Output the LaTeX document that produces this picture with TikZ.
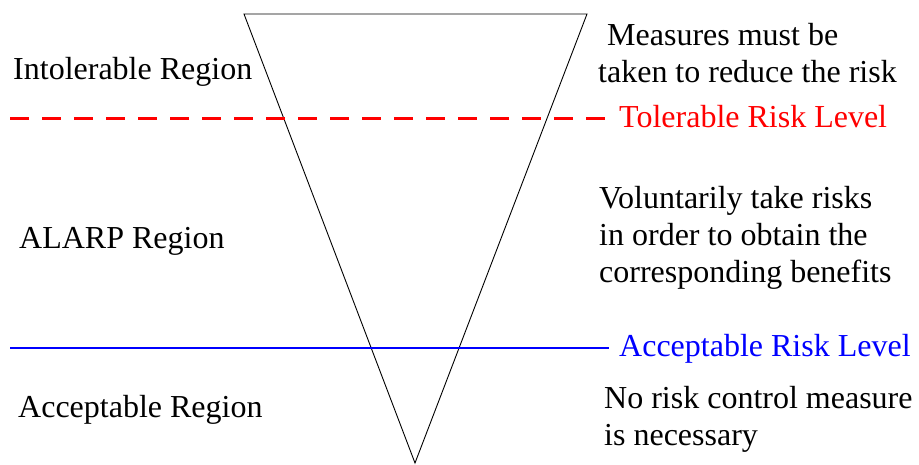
\documentclass[tikz,border=0pt]{standalone}
\usepackage{fontspec}
\setmainfont{Liberation Serif}
\usepackage{xcolor}
\usetikzlibrary{positioning}

\begin{document}
\begin{tikzpicture}[x=1pt, y=-1pt,
  txt/.style={inner sep=0pt, anchor=base west, align=left, font=\fontsize{32}{37}\selectfont},
  tolline/.style={red, line width=3pt, dash pattern=on 19pt off 13pt},
  accline/.style={blue, line width=2.7pt}]
  \useasboundingbox (0,0) rectangle (919,464);
  % risk triangle
  \coordinate (tl) at (244,14);
  \coordinate (tr) at (587,14);
  \coordinate (apex) at (415,463);
  \draw[line width=0.9pt] (tl) -- (tr) -- (apex) -- cycle;
  % risk levels
  \coordinate (tolL) at (10,118);
  \coordinate (tolR) at (613,118);
  \coordinate (accL) at (10,348);
  \coordinate (accR) at (609,348);
  \draw[tolline] (tolL) -- (tolR);
  \draw[accline] (accL) -- (accR);
  \node[txt, red]  (tol) at (619,127) {Tolerable Risk Level};
  \node[txt, blue] (acc) at (619,356) {Acceptable Risk Level};
  % regions
  \node[txt] (intol) at (13,79)  {Intolerable Region};
  \node[txt] (alarp) at (19,248) {ALARP Region};
  \node[txt] (accr)  at (18,417) {Acceptable Region};
  % measures (base = last line)
  \node[txt] (m1) at (598,82)  {\hspace*{9pt}Measures must be\\taken to reduce the risk};
  \node[txt] (m2) at (599,282) {Voluntarily take risks\\in order to obtain the\\corresponding benefits};
  \node[txt] (m3) at (604,445) {No risk control measure\\is necessary};
\end{tikzpicture}
\end{document}
